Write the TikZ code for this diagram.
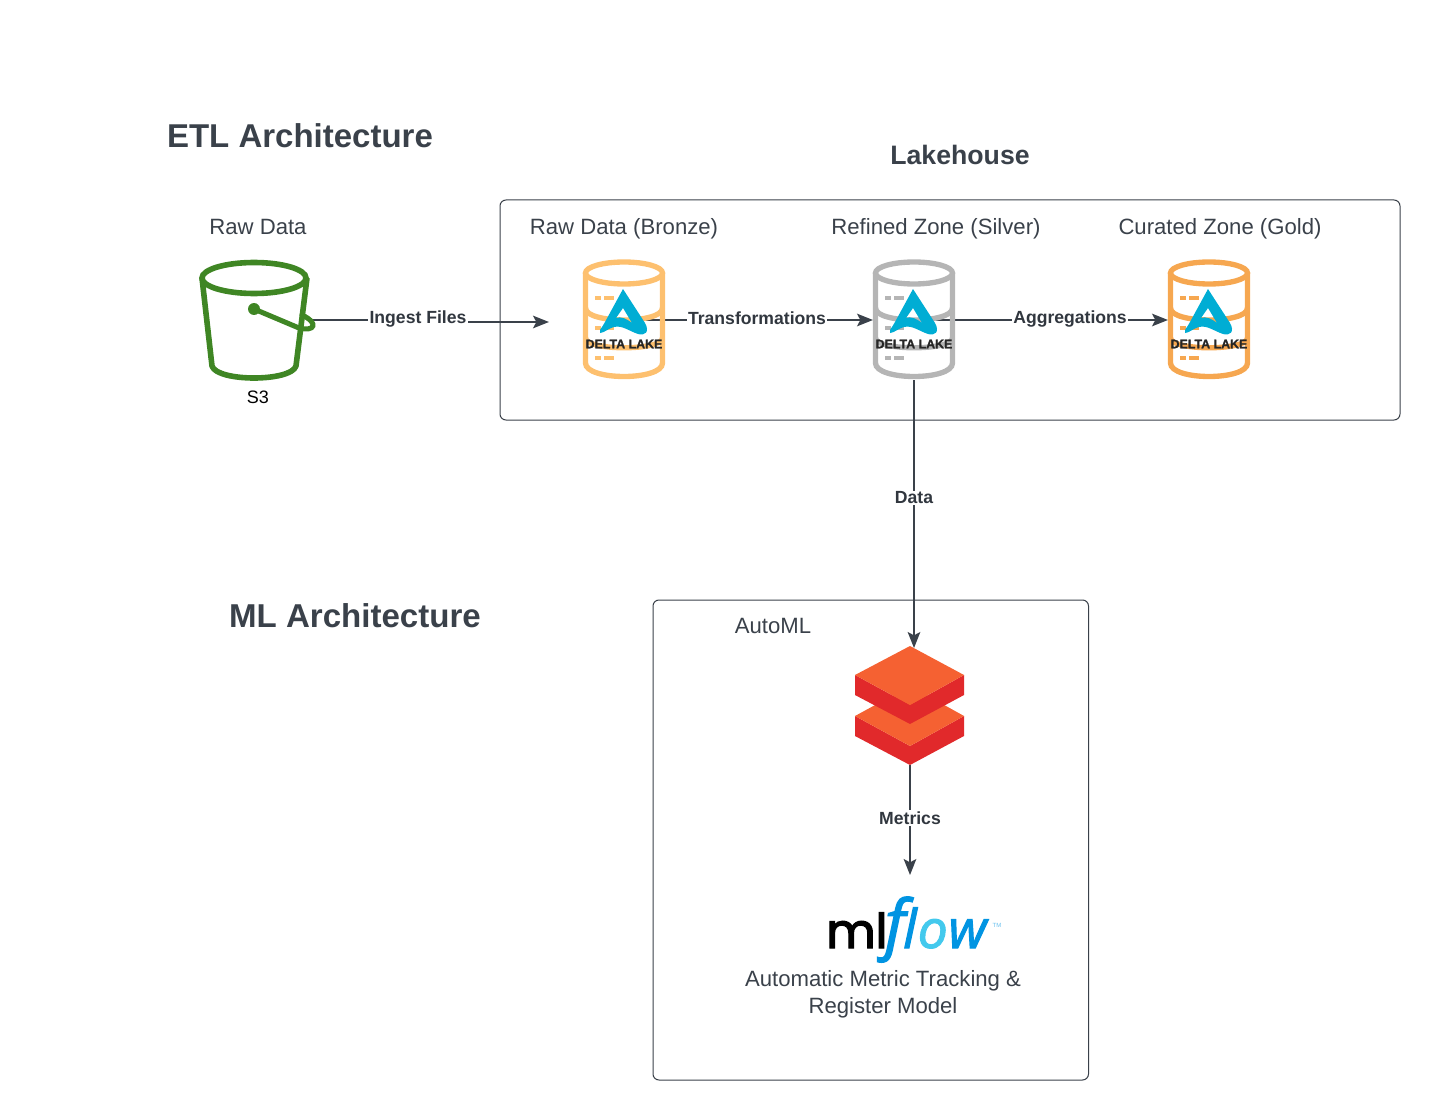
\documentclass[tikz,border=0pt]{standalone}
\usepackage{fontspec}
\setmainfont{Liberation Sans}
\newfontfamily\mlfont[FakeBold=3]{Poppins}
\newfontfamily\flowfont[ItalicFeatures={FakeBold=2}]{Open Sans}
\newfontfamily\deltafont[FakeBold=1.2]{Liberation Sans Bold}
\usepackage{tikz}
\usetikzlibrary{positioning}
\usetikzlibrary{backgrounds}
\usetikzlibrary{arrows.meta}

\definecolor{ink}{HTML}{3A414A}
\definecolor{bucketgreen}{HTML}{3F8624}
\definecolor{bronzecol}{HTML}{FDC06F}
\definecolor{silvercol}{HTML}{B5B5B5}
\definecolor{goldcol}{HTML}{F6A750}
\definecolor{deltablue}{HTML}{00ADD4}
\definecolor{dbxtop}{HTML}{F56132}
\definecolor{dbxside}{HTML}{E1292B}
\definecolor{flowblue}{HTML}{0194E2}
\definecolor{flowlight}{HTML}{43C9ED}

\tikzset{
    % icon drawn round the centre of its node
    deltadb/.pic={
        \draw[line width=4pt, #1] (0,-47) ellipse [x radius=38.5, y radius=11];
        \draw[line width=4pt, #1] (-38.5,-47) -- (-38.5,43) .. controls (-38.5,61) and (38.5,61) .. (38.5,43) -- (38.5,-47);
        \draw[line width=4pt, #1] (-38.5,-12) .. controls (-38.5,4) and (38.5,4) .. (38.5,-12);
        \draw[line width=4pt, #1] (-38.5,18) .. controls (-38.5,31) and (38.5,31) .. (38.5,18);
        \foreach \y in {-22,8,38} {
            \fill[#1] (-29,\y-2) rectangle (-23,\y+2);
            \fill[#1] (-20,\y-2) rectangle (-10,\y+2);
        }
        \fill[deltablue, even odd rule] (-1,-31) -- (21,3) .. controls (26,12) and (21,16) .. (14,14)
            .. controls (5,11) and (-2,5) .. (-10,7) .. controls (-15,8) and (-20,13) .. (-24,13)
            -- (-24,10) .. controls (-22,7) and (-20,4) .. (-19,2) -- cycle
            (-1,-12) -- (8,3) .. controls (3,-1) and (-3,-4) .. (-8,-2) -- cycle;
        \node[inner sep=0pt, font=\deltafont\fontsize{9.3pt}{10pt}\selectfont, text=black!85] (-) at (0,24) {DELTA LAKE};
    },
    s3bucket/.pic={
        \draw[line width=4.2pt, bucketgreen] (-1,-42) ellipse [x radius=52, y radius=15.5];
        \draw[line width=4.2pt, bucketgreen, line join=round] (-53,-42) -- (-43,46)
            .. controls (-38,62) and (36,62) .. (41,46) -- (52,-42);
        \fill[bucketgreen] (-1,-11) circle [radius=6];
        \draw[line width=3.8pt, bucketgreen, line cap=round] (-1,-11) -- (44,8)
            .. controls (60,12) and (64,3) .. (47,-5);
    },
    dbxlogo/.pic={
        \fill[dbxside] (-55,11) -- (0,41) -- (54,11) -- (54,31) -- (0,60) -- (-55,31) -- cycle;
        \fill[dbxtop] (0,-19) -- (54,11) -- (0,41) -- (-55,11) -- cycle;
        \fill[dbxside] (-55,-30) -- (0,0) -- (54,-30) -- (54,-10) -- (0,19) -- (-55,-10) -- cycle;
        \fill[dbxtop] (0,-59) -- (54,-30) -- (0,0) -- (-55,-30) -- cycle;
    }
}

\begin{document}
\begin{tikzpicture}[
    x=0.75pt, y=-0.75pt,
    node distance=156pt,
    title/.style={font=\bfseries, text=ink},
    txt/.style={font=\fontsize{16.6pt}{20.2pt}\selectfont, text=ink},
    flowlabel/.style={font=\fontsize{13.2pt}{15pt}\selectfont\bfseries, text=ink!85!black, fill=white, inner sep=1pt},
    dbicon/.style={minimum width=61.5pt, minimum height=90pt, inner sep=0pt, outer sep=0pt},
    arrow/.style={-{Stealth[length=12pt, width=9.5pt, inset=2.5pt]}, line width=1.1pt, draw=ink},
    box/.style={draw=ink, line width=0.75pt, rounded corners=4.5pt}
]
\useasboundingbox (0,0) rectangle (1440,1120);

% Titles
\node[title, font=\fontsize{24.75pt}{28pt}\selectfont\bfseries] (etltitle) at (300,135.3) {ETL Architecture};
\node[title, font=\fontsize{20pt}{24pt}\selectfont\bfseries] (laketitle) at (960,155.2) {Lakehouse};
\node[title, font=\fontsize{24.8pt}{28pt}\selectfont\bfseries] (mltitle) at (355,615.5) {ML Architecture};

% Boxes
\draw[box] (500,200) rectangle (1400,420);
\draw[box] (653,600) rectangle (1088.5,1080);

% Raw side
\node[txt] (rawlabel) at (258,227) {Raw Data};
\node[minimum width=82.5pt, minimum height=90pt, inner sep=0pt, outer sep=0pt] (s3) at (255,320) {};
\pic at (s3) {s3bucket};
\node[font=\fontsize{13.5pt}{15pt}\selectfont, text=black] (s3label) at (258,397) {S3};

% Lakehouse zones
\node[dbicon] (bronze) at (624,320) {};
\node[dbicon, right=156pt of bronze] (silver) {};
\node[dbicon, right=159.75pt of silver] (gold) {};
\pic at (bronze) {deltadb=bronzecol};
\pic at (silver) {deltadb=silvercol};
\pic at (gold) {deltadb=goldcol};

\node[txt] (bronzelabel) at (624,229) {Raw Data (Bronze)};
\node[txt] (silverlabel) at (936,229) {Refined Zone (Silver)};
\node[txt] (goldlabel) at (1220,229) {Curated Zone (Gold)};

% ML side
\node[txt] (automl) at (773,626) {AutoML};
\node[minimum width=82.5pt, minimum height=90pt, inner sep=0pt, outer sep=0pt] (dbx) at (910,705) {};
\pic at (dbx) {dbxlogo};

\node[inner sep=0pt, anchor=base west] (mlflow) at (826,948) {\mlfont\fontsize{36pt}{40pt}\selectfont ml\kern-2pt\flowfont\itshape\fontsize{49pt}{50pt}\selectfont\color{flowblue}\raisebox{1pt}{f}\kern-1.5pt\fontsize{40pt}{50pt}\selectfont l\kern0.8pt\color{flowlight}o\kern0.5pt\color{flowblue}w};
\node[inner sep=0pt, font=\fontsize{4.5pt}{5pt}\selectfont, text=flowblue!60] (tm) at (997,925) {TM};
\node[txt, align=center] (mlcaption) at (883,994) {Automatic Metric Tracking \&\\Register Model};

% Edge labels
\node[flowlabel] (ingest) at (418,319) {Ingest Files};
\node[flowlabel] (transform) at (757,318) {Transformations};
\node[flowlabel] (aggregate) at (1070,319) {Aggregations};
\node[flowlabel] (data) at (914,498) {Data};
\node[flowlabel] (metrics) at (910,818) {Metrics};

\coordinate (bronzein) at (549,322);
\coordinate (dbxin) at (914,648);
\coordinate (mlin) at (910,875);

% Connectors stay behind icons and labels
\begin{scope}[on background layer]
\draw[arrow] (s3.east) -- (ingest.center |- s3.east) -- (ingest.center |- bronzein) -- (bronzein);
\draw[arrow] (bronze.center) -- (silver.west);
\draw[arrow] (silver.center) -- (gold.west);
\draw[arrow] (silver.south) -- (dbxin);
\draw[arrow] (dbx.south) -- (mlin);
\end{scope}
\end{tikzpicture}
\end{document}
